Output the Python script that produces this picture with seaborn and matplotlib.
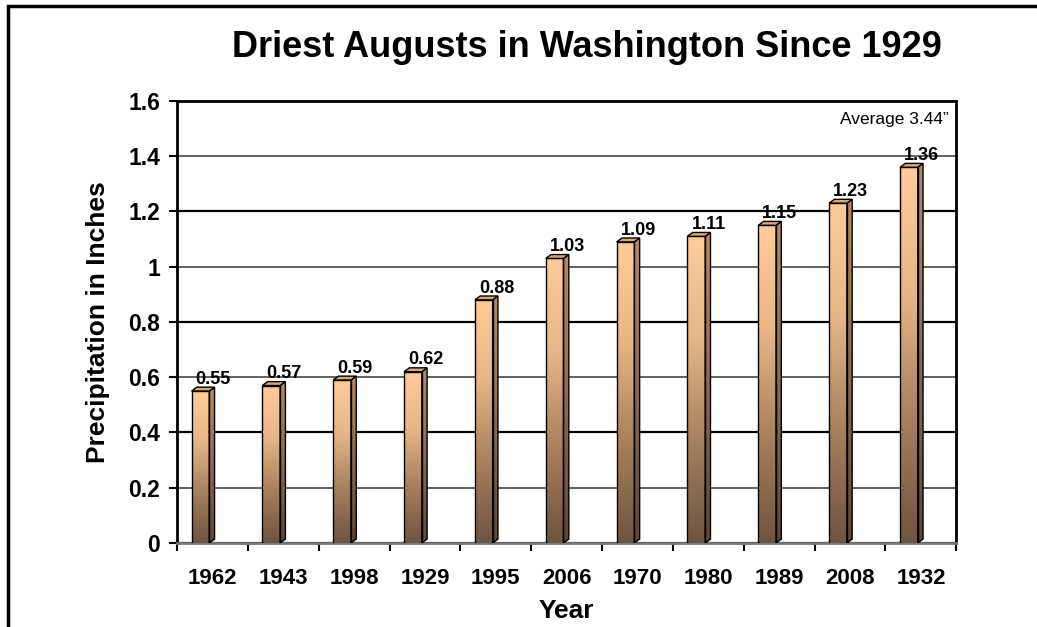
import seaborn as sns
import matplotlib.pyplot as plt
import numpy as np
from matplotlib.patches import Polygon, Rectangle
from matplotlib.colors import LinearSegmentedColormap

years = ["1962", "1943", "1998", "1929", "1995", "2006", "1970", "1980", "1989", "2008", "1932"]
precip = [0.55, 0.57, 0.59, 0.62, 0.88, 1.03, 1.09, 1.11, 1.15, 1.23, 1.36]
y_ticks = [0, 0.2, 0.4, 0.6, 0.8, 1.0, 1.2, 1.4, 1.6]

sns.set_style("white")
plt.rcParams["font.family"] = ["Liberation Sans", "DejaVu Sans"]
plt.rcParams["text.color"] = "black"
plt.rcParams["axes.labelcolor"] = "black"
plt.rcParams["xtick.color"] = "black"
plt.rcParams["ytick.color"] = "black"

fig = plt.figure(figsize=(10.37, 6.27), dpi=100)
ax = fig.add_axes([0.1707, 0.134, 0.7515, 0.705])

sns.barplot(x=years, y=precip, ax=ax, width=0.25, color="#FFCC99",
            edgecolor="black", linewidth=1.0, zorder=3)

grad = LinearSegmentedColormap.from_list("bar", ["#6E5440", "#A8805C", "#E6B686", "#FFCC99"])
side_grad = LinearSegmentedColormap.from_list("side", ["#5E4634", "#8E6A4C", "#B88A62"])
shift = -0.17
dx, dy = 0.075, 0.014
for bar, val in zip(ax.patches, precip):
    bar.set_x(bar.get_x() + shift)
    x0, w, h = bar.get_x(), bar.get_width(), bar.get_height()
    bar.set_facecolor("none")
    img = ax.imshow(np.linspace(0, 1, 256).reshape(-1, 1), cmap=grad, origin="lower",
                    extent=[x0, x0 + w, 0, h], aspect="auto", zorder=2.5)
    img.set_clip_path(bar)
    # 3D side and top faces
    side = Polygon([[x0 + w, 0], [x0 + w + dx, dy], [x0 + w + dx, h + dy], [x0 + w, h]],
                   closed=True, facecolor="none", edgecolor="black", lw=1.0, zorder=3)
    ax.add_patch(side)
    simg = ax.imshow(np.linspace(0, 1, 256).reshape(-1, 1), cmap=side_grad, origin="lower",
                     extent=[x0 + w, x0 + w + dx, 0, h + dy], aspect="auto", zorder=2.5)
    simg.set_clip_path(side)
    top = Polygon([[x0, h], [x0 + dx, h + dy], [x0 + w + dx, h + dy], [x0 + w, h]],
                  closed=True, facecolor="#D9A878", edgecolor="black", lw=1.0, zorder=3)
    ax.add_patch(top)
    ax.text(x0 + w / 2 + 0.18, h + 0.012, f"{val:.2f}", ha="center", va="bottom",
            fontsize=13, fontweight="bold", zorder=4)

ax.set_xlim(-0.5, len(years) - 0.5)
ax.set_ylim(0, 1.6)
ax.set_yticks(y_ticks)
ax.set_yticklabels([f"{t:g}" for t in y_ticks])
ax.set_xticks(np.arange(-0.5, len(years)), minor=True)
ax.tick_params(axis="x", which="major", length=0, pad=18, labelsize=16)
ax.tick_params(axis="x", which="minor", length=6, width=1.5, direction="out", bottom=True)
ax.tick_params(axis="y", length=6, width=1.5, direction="out", left=True,
               labelsize=16.5, pad=6)
for lab in ax.get_xticklabels() + ax.get_yticklabels():
    lab.set_fontweight("bold")

ax.yaxis.grid(True, zorder=0)
for i, gl in enumerate(ax.get_ygridlines()):
    gl.set_color("black" if i % 2 == 0 else "#555555")
    gl.set_linewidth(1.6 if i % 2 == 0 else 1.3)
ax.set_axisbelow(True)

for s in ["left", "top", "right"]:
    ax.spines[s].set_color("black")
    ax.spines[s].set_linewidth(2)
ax.spines["bottom"].set_color("#777777")
ax.spines["bottom"].set_linewidth(2)

ax.set_xlabel("Year", fontsize=19, fontweight="bold", labelpad=7)
ax.set_ylabel("Precipitation in Inches", fontsize=19, fontweight="bold", labelpad=13)
ax.text(0.99, 0.975, "Average 3.44\u201d", transform=ax.transAxes, ha="right", va="top", fontsize=12.5)

fig.text(0.566, 0.925, "Driest Augusts in Washington Since 1929", ha="center", va="center",
         fontsize=26, fontweight="bold")

fig.patches.append(Rectangle((8 / 1037, -0.1), 1.2, 1 - 6 / 627 + 0.1, transform=fig.transFigure,
                             fill=False, edgecolor="black", linewidth=2.5))

fig.savefig("out.png", dpi=100)
